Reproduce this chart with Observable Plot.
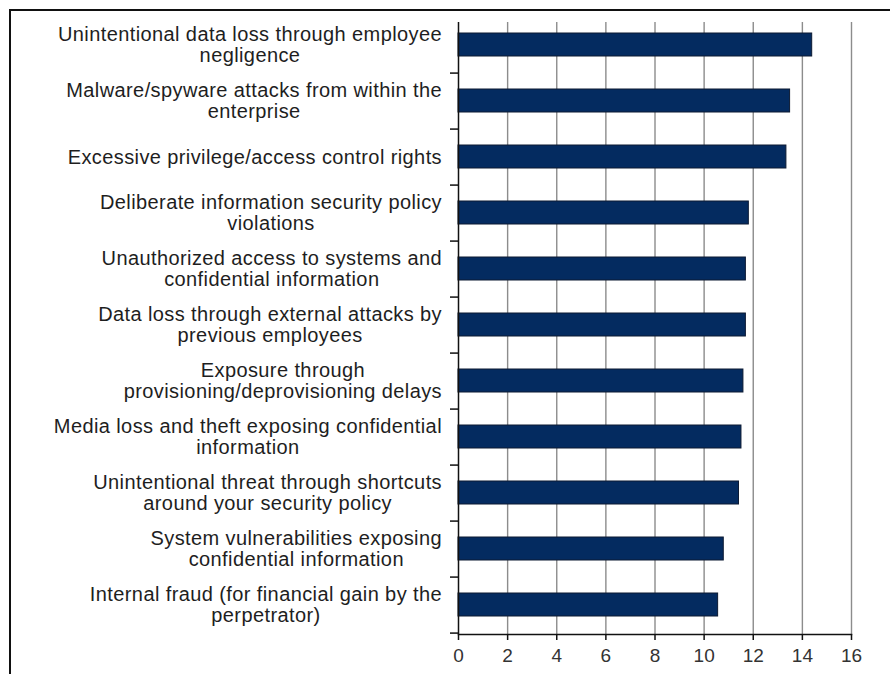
<!DOCTYPE html>
<html>
<head>
<meta charset="utf-8">
<script src="https://cdn.jsdelivr.net/npm/d3@7"></script>
<script src="https://cdn.jsdelivr.net/npm/@observablehq/plot@0.6"></script>
<style>
  html, body { margin: 0; padding: 0; background: #fff; overflow: hidden; }
  #wrap { position: relative; width: 890px; height: 674px; overflow: hidden; }
  #border {
    position: absolute; left: 9px; top: 9px; width: 1000px; height: 1000px;
    border-top: 2px solid #111; border-left: 2px solid #111; pointer-events: none;
  }
  #chart { position: absolute; left: 0; top: 0; }
</style>
</head>
<body>
<div id="wrap">
  <div id="chart"></div>
  <div id="border"></div>
</div>
<script>
// Insider threat categories, top to bottom
const categories = [
  "Unintentional data loss through employee negligence",
  "Malware/spyware attacks from within the enterprise",
  "Excessive privilege/access control rights",
  "Deliberate information security policy violations",
  "Unauthorized access to systems and confidential information",
  "Data loss through external attacks by previous employees",
  "Exposure through provisioning/deprovisioning delays",
  "Media loss and theft exposing confidential information",
  "Unintentional threat through shortcuts around your security policy",
  "System vulnerabilities exposing confidential information",
  "Internal fraud (for financial gain by the perpetrator)"
];

// Line-broken versions used as tick labels
const tickLabels = [
  "Unintentional data loss through employee\nnegligence",
  "Malware/spyware attacks from within the\nenterprise",
  "Excessive privilege/access control rights",
  "Deliberate information security policy\nviolations",
  "Unauthorized access to systems and\nconfidential information",
  "Data loss through external attacks by\nprevious employees",
  "Exposure through\nprovisioning/deprovisioning delays",
  "Media loss and theft exposing confidential\ninformation",
  "Unintentional threat through shortcuts\naround your security policy",
  "System vulnerabilities exposing\nconfidential information",
  "Internal fraud (for financial gain by the\nperpetrator)"
];

const values = [14.4, 13.5, 13.35, 11.82, 11.7, 11.7, 11.6, 11.52, 11.42, 10.8, 10.57];

const xTicks = [0, 2, 4, 6, 8, 10, 12, 14, 16];

const data = categories.map((c, i) => ({category: c, value: values[i]}));
const labelOf = new Map(categories.map((c, i) => [c, tickLabels[i]]));

const W = 890, H = 674;
const mTop = 16, mBottom = 40, mLeft = 458, mRight = 39;
const step = (H - mTop - mBottom) / categories.length;

const plot = Plot.plot({
  width: W,
  height: H,
  marginTop: mTop,
  marginBottom: mBottom,
  marginLeft: mLeft,
  marginRight: mRight,
  style: {fontFamily: "'Liberation Sans', Arial, sans-serif", color: "#1e1e1e", background: "transparent"},
  x: {domain: [0, 16], ticks: xTicks, label: null},
  y: {domain: categories, paddingInner: 0.585, paddingOuter: 0.2925, label: null},
  marks: [
    Plot.gridX(xTicks.slice(1), {stroke: "#8c8c8c", strokeOpacity: 1, strokeWidth: 1.4, insetTop: 6}),
    Plot.barX(data, {x: "value", y: "category", fill: "#042b60", stroke: "#0c1a33", strokeWidth: 1}),
    Plot.ruleX([0], {stroke: "#111", strokeWidth: 1.5, insetTop: 6}),
    Plot.frame({anchor: "bottom", stroke: "#111", strokeWidth: 1.5}),
    // separator ticks between categories
    Plot.axisY({tickSize: 8, tickFormat: () => "", dy: step / 2, stroke: "#111", strokeWidth: 1.5}),
    Plot.axisY({tickSize: 0, tickPadding: 16.5, tickFormat: d => labelOf.get(d), fontSize: 20, lineHeight: 1.04, fill: "#1e1e1e"}),
    Plot.axisX(xTicks, {tickSize: 6, tickPadding: 8, fontSize: 19, fill: "#333", stroke: "#111", strokeWidth: 1.5})
  ]
});

document.getElementById("chart").appendChild(plot);

// Center each wrapped label's lines within its right-aligned block
const yLabels = d3.select(plot).selectAll('g[aria-label="y-axis tick label"] text');
yLabels.style("letter-spacing", "0.4px");
yLabels.each(function () {
  const text = d3.select(this);
  const spans = text.selectAll("tspan");
  if (spans.empty()) return;
  const b0 = this.getBBox();
  const right0 = b0.x + b0.width;
  let maxW = 0;
  spans.each(function () { maxW = Math.max(maxW, this.getComputedTextLength()); });
  text.attr("text-anchor", "middle");
  spans.attr("x", 0);
  const b1 = this.getBBox();
  const shift = right0 - (b1.x + b1.width);
  spans.attr("x", shift);
});
</script>
</body>
</html>
